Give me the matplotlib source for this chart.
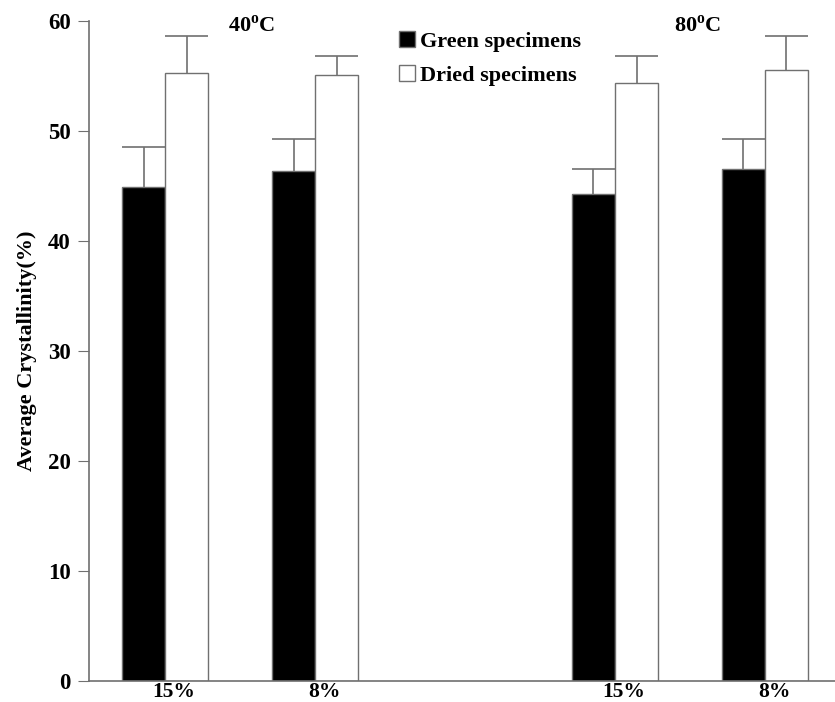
import numpy as np
import matplotlib.pyplot as plt
from matplotlib.patches import Patch

plt.rcParams['font.family'] = ['Liberation Serif', 'DejaVu Serif']
plt.rcParams['font.weight'] = 'bold'
plt.rcParams['mathtext.fontset'] = 'custom'
plt.rcParams['mathtext.rm'] = 'Liberation Serif:bold'

groups = ['15%', '8%', '15%', '8%']
green = [44.9, 46.4, 44.3, 46.5]
green_err = [3.6, 2.9, 2.2, 2.8]
dried = [55.3, 55.1, 54.4, 55.5]
dried_err = [3.3, 1.7, 2.4, 3.1]

pos = np.array([0, 1, 3, 4])
w = 0.287
edge = '#707070'

fig = plt.figure(figsize=(8.35, 7.02), dpi=100)
ax = fig.add_axes([0.1066, 0.0299, 0.8934, 0.9402])

xg = pos - w/2
xd = pos + w/2
ax.bar(xg, green, w, color='black', edgecolor=edge, linewidth=1)
ax.bar(xd, dried, w, color='white', edgecolor=edge, linewidth=1)

# upper error bars only, cap as wide as the bar
for x, y, e in zip(np.r_[xg, xd], green + dried, green_err + dried_err):
    ax.vlines(x, y, y + e, color=edge, linewidth=1.2)
    ax.hlines(y + e, x - w/2, x + w/2, color=edge, linewidth=1.2)

ax.set_xlim(-0.507, 4.467)
ax.set_ylim(0, 60)
ax.set_yticks(range(0, 61, 10))
ax.set_xticks(pos + 0.06)
ax.set_xticklabels(groups)
ax.tick_params(axis='x', length=0, labelsize=15.5, pad=1)
ax.tick_params(axis='y', length=8, color=edge, labelsize=16.5, pad=5)
for s in ['top', 'right']:
    ax.spines[s].set_visible(False)
for s in ['left', 'bottom']:
    ax.spines[s].set_color(edge)
    ax.spines[s].set_linewidth(1.2)

ax.set_ylabel('Average Crystallinity(%)', fontsize=16, fontweight='bold', labelpad=8)

ax.text(0.58, 59.5, r'40$^\mathregular{o}$C', fontsize=16, fontweight='bold', ha='center', va='center')
ax.text(3.55, 59.5, r'80$^\mathregular{o}$C', fontsize=16, fontweight='bold', ha='center', va='center')

handles = [Patch(facecolor='black', edgecolor=edge),
           Patch(facecolor='white', edgecolor=edge)]
fig.legend(handles, ['Green specimens', 'Dried specimens'], loc='upper left',
           bbox_to_anchor=(0.478, 0.956), frameon=False, borderpad=0, borderaxespad=0,
           handlelength=0.72, handleheight=0.72, handletextpad=0.2, labelspacing=0.62,
           prop={'weight': 'bold', 'size': 16})

fig.savefig('out.png', dpi=100)
